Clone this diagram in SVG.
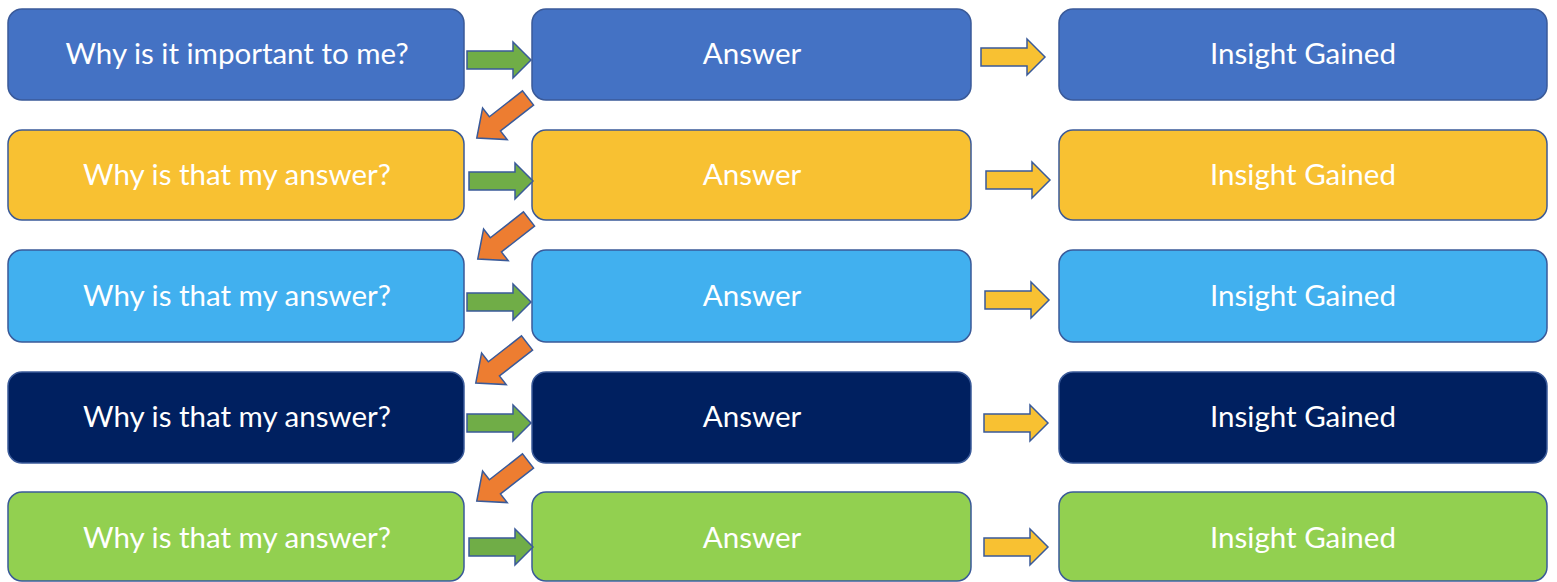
<svg xmlns="http://www.w3.org/2000/svg" width="1557" height="582" viewBox="0 0 1557 582">
<style>
.box{stroke:#3A5A99;stroke-width:1.5}
.t{font-family:Lato,"Open Sans","Liberation Sans",sans-serif;font-size:29.5px;fill:#FFFFFF;text-anchor:middle}
.r1{fill:#4472C4}.r2{fill:#F8C132}.r3{fill:#41B0EF}.r4{fill:#002060}.r5{fill:#92D050}
.ga{fill:#70AD47;stroke:#3A5A99;stroke-width:1.5}
.ya{fill:#F8C132;stroke:#3A5A99;stroke-width:1.5}
.oa{fill:#ED7D31;stroke:#3A5A99;stroke-width:1.5}
</style>
<defs>
<path id="harrow" d="M0,-9 H46 V-18 L64,0 L46,18 V9 H0 Z"/>
<path id="darrow" d="M0,-9 H42 V-20 L65,0 L42,20 V9 H0 Z"/>
</defs>
<g id="q1"><rect class="box r1" x="8" y="9" width="456" height="91" rx="14"/><text class="t" x="237" y="64">Why is it important to me?</text></g>
<g id="a1"><rect class="box r1" x="532" y="9" width="439" height="91" rx="14"/><text class="t" x="752" y="64">Answer</text></g>
<g id="i1"><rect class="box r1" x="1059" y="9" width="488" height="91" rx="14"/><text class="t" x="1303" y="64">Insight Gained</text></g>
<g id="q2"><rect class="box r2" x="8" y="130" width="456" height="90" rx="14"/><text class="t" x="237" y="185">Why is that my answer?</text></g>
<g id="a2"><rect class="box r2" x="532" y="130" width="439" height="90" rx="14"/><text class="t" x="752" y="185">Answer</text></g>
<g id="i2"><rect class="box r2" x="1059" y="130" width="488" height="90" rx="14"/><text class="t" x="1303" y="185">Insight Gained</text></g>
<g id="q3"><rect class="box r3" x="8" y="250" width="456" height="92" rx="14"/><text class="t" x="237" y="306">Why is that my answer?</text></g>
<g id="a3"><rect class="box r3" x="532" y="250" width="439" height="92" rx="14"/><text class="t" x="752" y="306">Answer</text></g>
<g id="i3"><rect class="box r3" x="1059" y="250" width="488" height="92" rx="14"/><text class="t" x="1303" y="306">Insight Gained</text></g>
<g id="q4"><rect class="box r4" x="8" y="372" width="456" height="91" rx="14"/><text class="t" x="237" y="427">Why is that my answer?</text></g>
<g id="a4"><rect class="box r4" x="532" y="372" width="439" height="91" rx="14"/><text class="t" x="752" y="427">Answer</text></g>
<g id="i4"><rect class="box r4" x="1059" y="372" width="488" height="91" rx="14"/><text class="t" x="1303" y="427">Insight Gained</text></g>
<g id="q5"><rect class="box r5" x="8" y="492" width="456" height="89" rx="14"/><text class="t" x="237" y="548">Why is that my answer?</text></g>
<g id="a5"><rect class="box r5" x="532" y="492" width="439" height="89" rx="14"/><text class="t" x="752" y="548">Answer</text></g>
<g id="i5"><rect class="box r5" x="1059" y="492" width="488" height="89" rx="14"/><text class="t" x="1303" y="548">Insight Gained</text></g>
<g id="connectors">
<use href="#harrow" class="ga" transform="translate(467,60)"/>
<use href="#harrow" class="ga" transform="translate(469,181)"/>
<use href="#harrow" class="ga" transform="translate(467,302)"/>
<use href="#harrow" class="ga" transform="translate(467,423)"/>
<use href="#harrow" class="ga" transform="translate(469,547)"/>
<use href="#harrow" class="ya" transform="translate(981,57)"/>
<use href="#harrow" class="ya" transform="translate(986,180)"/>
<use href="#harrow" class="ya" transform="translate(985,300)"/>
<use href="#harrow" class="ya" transform="translate(984,423)"/>
<use href="#harrow" class="ya" transform="translate(984,547)"/>
<use href="#darrow" class="oa" transform="translate(528,98) rotate(142)"/>
<use href="#darrow" class="oa" transform="translate(529,219) rotate(142)"/>
<use href="#darrow" class="oa" transform="translate(527,343) rotate(142)"/>
<use href="#darrow" class="oa" transform="translate(528,461) rotate(142)"/>
</g>
</svg>
